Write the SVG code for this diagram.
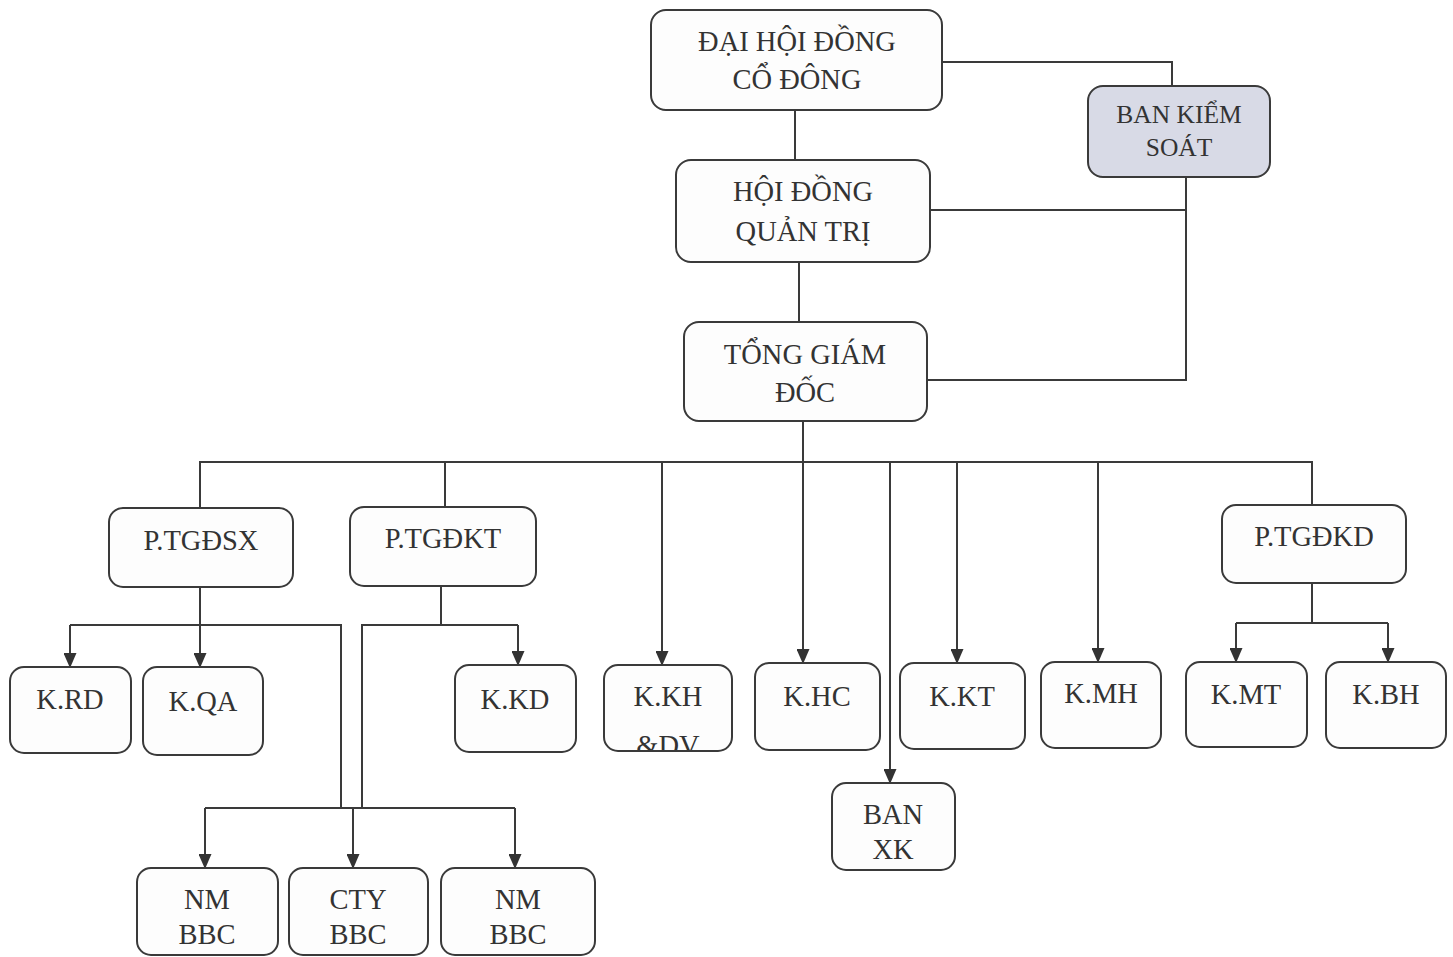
<svg xmlns="http://www.w3.org/2000/svg" width="1453" height="957" viewBox="0 0 1453 957">
<style>
.box{fill:#fdfdfd;stroke:#3a3a3a;stroke-width:2}
.shade{fill:#d8dae6}
.t{font-size:28.5px;fill:#333;text-anchor:middle}
.ln{fill:none;stroke:#3a3a3a;stroke-width:2}
.ar{marker-end:url(#ah)}
</style>
<defs>
<marker id="ah" markerWidth="15" markerHeight="13" refX="14" refY="6.5" orient="auto" markerUnits="userSpaceOnUse" viewBox="0 0 15 13">
<path d="M0,0 L15,6.5 L0,13 Z" fill="#333"/>
</marker>
<clipPath id="ckh"><rect x="605" y="666" width="126" height="84" rx="13"/></clipPath>
</defs>
<rect width="1453" height="957" fill="#ffffff"/>
<g id="connectors">
<path class="ln" d="M942,62 H1172 V86"/>
<path class="ln" d="M795,110 V160"/>
<path class="ln" d="M930,210 H1186"/>
<path class="ln" d="M1186,177 V380 H927"/>
<path class="ln" d="M799,262 V322"/>
<path class="ln" d="M200,508 V462 H1312 V505"/>
<path class="ln" d="M445,507 V462"/>
<path class="ln ar" d="M662,462 V665"/>
<path class="ln ar" d="M803,421 V663"/>
<path class="ln ar" d="M890,462 V783"/>
<path class="ln ar" d="M957,462 V663"/>
<path class="ln ar" d="M1098,462 V662"/>
<path class="ln ar" d="M200,587 V667"/>
<path class="ln ar" d="M70,625 V667"/>
<path class="ln" d="M70,625 H341 V808"/>
<path class="ln" d="M441,586 V625"/>
<path class="ln ar" d="M518,625 V665"/>
<path class="ln" d="M518,625 H362 V808"/>
<path class="ln" d="M205,808 H515"/>
<path class="ln ar" d="M205,808 V868"/>
<path class="ln ar" d="M353,808 V868"/>
<path class="ln ar" d="M515,808 V868"/>
<path class="ln" d="M1312,583 V623"/>
<path class="ln ar" d="M1236,623 V662"/>
<path class="ln ar" d="M1388,623 V662"/>
<path class="ln" d="M1236,623 H1388"/>
</g>
<g font-family="'Liberation Serif', 'Times New Roman', 'DejaVu Serif', serif">
<g id="n-dhdcd"><rect class="box" x="651" y="10" width="291" height="100" rx="15"/><text class="t" x="797" y="51">ĐẠI HỘI ĐỒNG</text><text class="t" x="797" y="89">CỔ ĐÔNG</text></g>
<g id="n-bks"><rect class="box shade" x="1088" y="86" width="182" height="91" rx="15"/><text class="t" x="1179" y="123" style="font-size:25.5px">BAN KIỂM</text><text class="t" x="1179" y="156" style="font-size:25.5px">SOÁT</text></g>
<g id="n-hdqt"><rect class="box" x="676" y="160" width="254" height="102" rx="15"/><text class="t" x="803" y="201">HỘI ĐỒNG</text><text class="t" x="803" y="241">QUẢN TRỊ</text></g>
<g id="n-tgd"><rect class="box" x="684" y="322" width="243" height="99" rx="15"/><text class="t" x="805" y="364">TỔNG GIÁM</text><text class="t" x="805" y="402">ĐỐC</text></g>
<g id="n-ptgdsx"><rect class="box" x="109" y="508" width="184" height="79" rx="14"/><text class="t" x="201" y="550">P.TGĐSX</text></g>
<g id="n-ptgdkt"><rect class="box" x="350" y="507" width="186" height="79" rx="14"/><text class="t" x="443" y="548">P.TGĐKT</text></g>
<g id="n-ptgdkd"><rect class="box" x="1222" y="505" width="184" height="78" rx="14"/><text class="t" x="1314" y="546">P.TGĐKD</text></g>
<g id="n-krd"><rect class="box" x="10" y="667" width="121" height="86" rx="14"/><text class="t" x="70" y="709">K.RD</text></g>
<g id="n-kqa"><rect class="box" x="143" y="667" width="120" height="88" rx="14"/><text class="t" x="203" y="711">K.QA</text></g>
<g id="n-kkd"><rect class="box" x="455" y="665" width="121" height="87" rx="14"/><text class="t" x="515" y="709">K.KD</text></g>
<g id="n-kkh"><rect class="box" x="604" y="665" width="128" height="86" rx="14"/><g clip-path="url(#ckh)"><text class="t" x="668" y="706">K.KH</text><text class="t" x="668" y="755">&amp;DV</text></g></g>
<g id="n-khc"><rect class="box" x="755" y="663" width="125" height="87" rx="14"/><text class="t" x="817" y="706">K.HC</text></g>
<g id="n-kkt"><rect class="box" x="900" y="663" width="125" height="86" rx="14"/><text class="t" x="962" y="706">K.KT</text></g>
<g id="n-kmh"><rect class="box" x="1041" y="662" width="120" height="86" rx="14"/><text class="t" x="1101" y="703">K.MH</text></g>
<g id="n-kmt"><rect class="box" x="1186" y="662" width="121" height="85" rx="14"/><text class="t" x="1246" y="704">K.MT</text></g>
<g id="n-kbh"><rect class="box" x="1326" y="662" width="120" height="86" rx="14"/><text class="t" x="1386" y="704">K.BH</text></g>
<g id="n-banxk"><rect class="box" x="832" y="783" width="123" height="87" rx="14"/><text class="t" x="893" y="824">BAN</text><text class="t" x="893" y="859">XK</text></g>
<g id="n-nm1"><rect class="box" x="137" y="868" width="141" height="87" rx="14"/><text class="t" x="207" y="909">NM</text><text class="t" x="207" y="944">BBC</text></g>
<g id="n-cty"><rect class="box" x="289" y="868" width="139" height="87" rx="14"/><text class="t" x="358" y="909">CTY</text><text class="t" x="358" y="944">BBC</text></g>
<g id="n-nm2"><rect class="box" x="441" y="868" width="154" height="87" rx="14"/><text class="t" x="518" y="909">NM</text><text class="t" x="518" y="944">BBC</text></g>
</g>
</svg>
